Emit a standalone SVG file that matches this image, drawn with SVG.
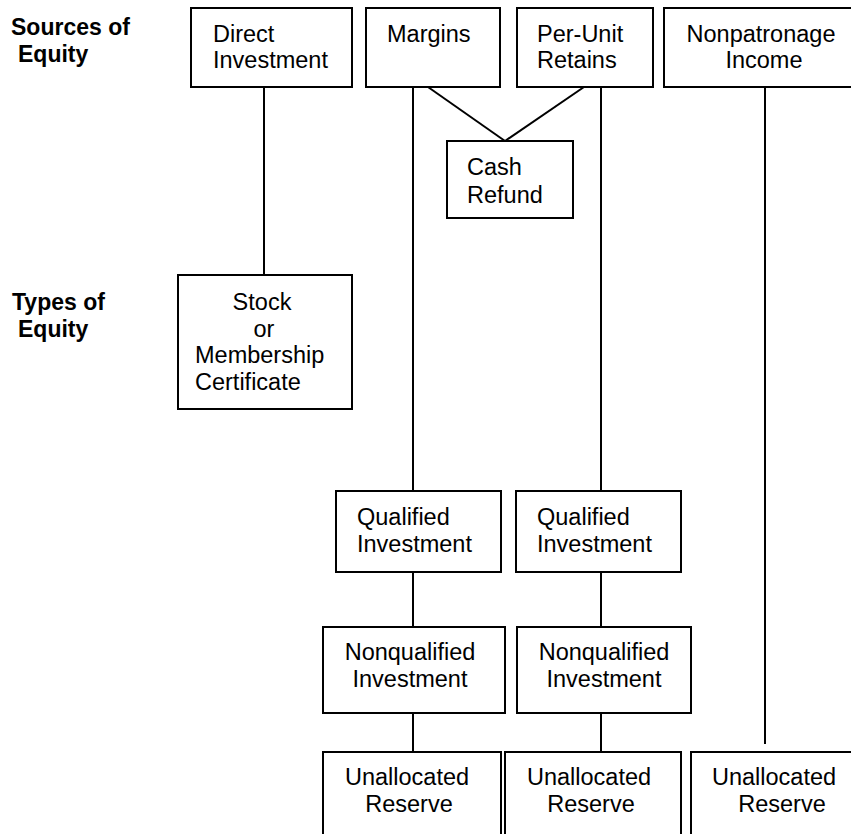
<svg xmlns="http://www.w3.org/2000/svg" width="851" height="834" viewBox="0 0 851 834">
<style>
rect.box{fill:#fff;stroke:#000;stroke-width:2}
.t{font-family:"Liberation Sans",Arial,sans-serif;font-size:23.5px;fill:#000}
.h{font-family:"Liberation Sans",Arial,sans-serif;font-size:23px;font-weight:bold;fill:#000}
.c{text-anchor:middle}
#connectors line{stroke:#000;stroke-width:2}
</style>
<rect width="851" height="834" fill="#fff"/>
<g id="labels">
<text class="h" x="11" y="35">Sources of</text>
<text class="h" x="18" y="62">Equity</text>
<text class="h" x="12" y="310">Types of</text>
<text class="h" x="18" y="337">Equity</text>
</g>
<g id="connectors">
<line x1="264" y1="87" x2="264" y2="275"/>
<line x1="413" y1="87" x2="413" y2="491"/>
<line x1="428" y1="87" x2="505" y2="141"/>
<line x1="584" y1="87" x2="505" y2="141"/>
<line x1="601" y1="87" x2="601" y2="491"/>
<line x1="765" y1="87" x2="765" y2="744"/>
<line x1="413" y1="572" x2="413" y2="627"/>
<line x1="601" y1="572" x2="601" y2="627"/>
<line x1="413" y1="713" x2="413" y2="752"/>
<line x1="601" y1="713" x2="601" y2="752"/>
</g>
<g id="direct-investment">
<rect class="box" x="191" y="8" width="161" height="79"/>
<text class="t" x="213" y="42">Direct</text>
<text class="t" x="213" y="68">Investment</text>
</g>
<g id="margins">
<rect class="box" x="366" y="8" width="134" height="79"/>
<text class="t" x="387" y="42">Margins</text>
</g>
<g id="per-unit-retains">
<rect class="box" x="517" y="8" width="136" height="79"/>
<text class="t" x="537" y="42">Per-Unit</text>
<text class="t" x="537" y="68">Retains</text>
</g>
<g id="nonpatronage-income">
<rect class="box" x="664" y="8" width="200" height="79"/>
<text class="t c" x="761" y="42">Nonpatronage</text>
<text class="t c" x="764" y="68">Income</text>
</g>
<g id="cash-refund">
<rect class="box" x="447" y="141" width="126" height="77"/>
<text class="t" x="467" y="175">Cash</text>
<text class="t" x="467" y="203">Refund</text>
</g>
<g id="stock">
<rect class="box" x="178" y="275" width="174" height="134"/>
<text class="t c" x="262" y="310">Stock</text>
<text class="t c" x="264" y="337">or</text>
<text class="t" x="195" y="363">Membership</text>
<text class="t" x="195" y="390">Certificate</text>
</g>
<g id="qualified-1">
<rect class="box" x="336" y="491" width="165" height="81"/>
<text class="t" x="357" y="525">Qualified</text>
<text class="t" x="357" y="552">Investment</text>
</g>
<g id="qualified-2">
<rect class="box" x="516" y="491" width="165" height="81"/>
<text class="t" x="537" y="525">Qualified</text>
<text class="t" x="537" y="552">Investment</text>
</g>
<g id="nonqualified-1">
<rect class="box" x="323" y="627" width="182" height="86"/>
<text class="t c" x="410" y="660">Nonqualified</text>
<text class="t c" x="410" y="687">Investment</text>
</g>
<g id="nonqualified-2">
<rect class="box" x="517" y="627" width="174" height="86"/>
<text class="t c" x="604" y="660">Nonqualified</text>
<text class="t c" x="604" y="687">Investment</text>
</g>
<g id="unallocated-1">
<rect class="box" x="323" y="752" width="178" height="100"/>
<text class="t c" x="407" y="785">Unallocated</text>
<text class="t c" x="409" y="812">Reserve</text>
</g>
<g id="unallocated-2">
<rect class="box" x="505" y="752" width="176" height="100"/>
<text class="t c" x="589" y="785">Unallocated</text>
<text class="t c" x="591" y="812">Reserve</text>
</g>
<g id="unallocated-3">
<rect class="box" x="691" y="752" width="175" height="100"/>
<text class="t c" x="774" y="785">Unallocated</text>
<text class="t c" x="782" y="812">Reserve</text>
</g>
</svg>
